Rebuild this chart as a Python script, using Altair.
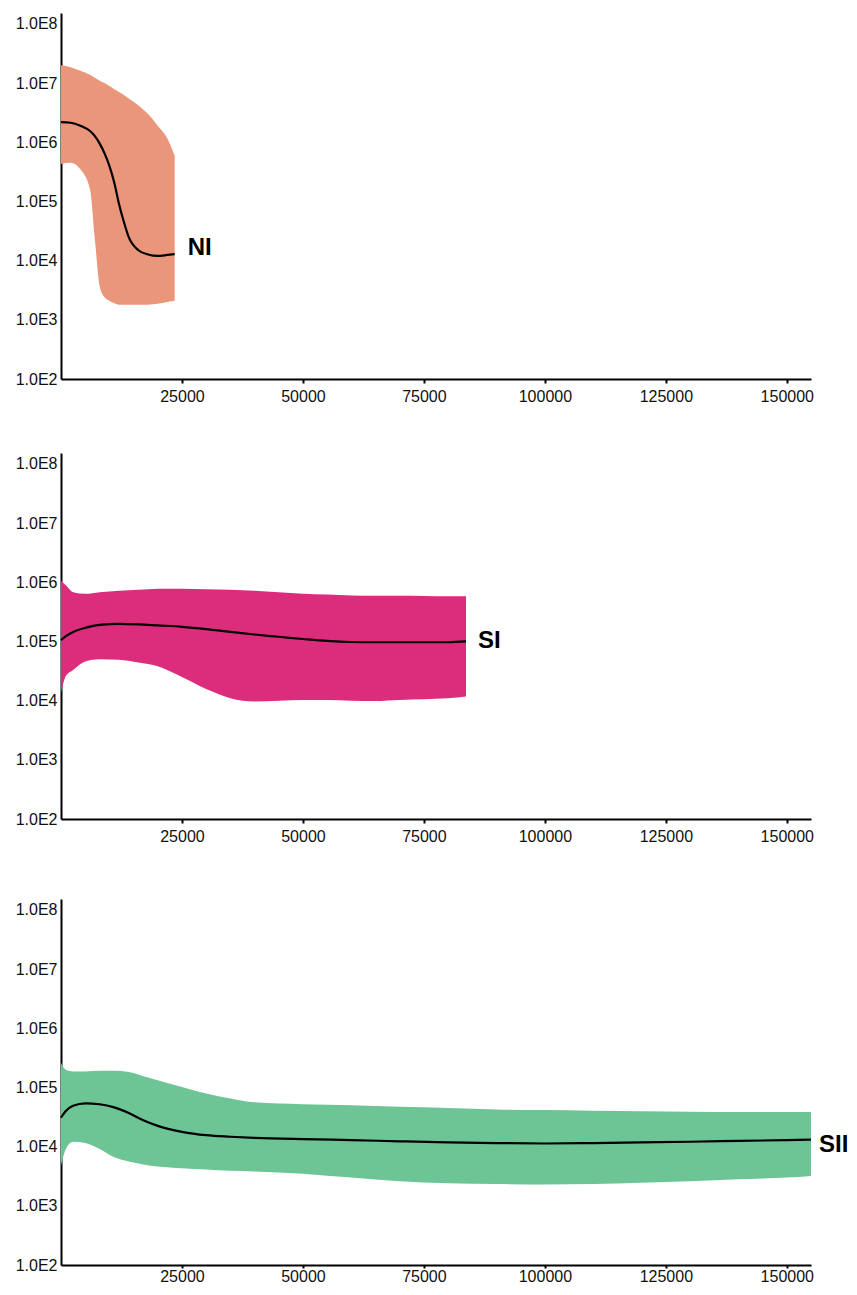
import altair as alt
import pandas as pd

# ---------------- data ----------------
ni_x = [0, 2000, 4000, 6000, 7000, 8000, 9000, 10000, 11000, 12000, 13000, 14000,
        16000, 18000, 20000, 22000, 23500]
ni_upper = [2.0e7, 1.86e7, 1.62e7, 1.38e7, 1.23e7, 1.10e7, 1.0e7, 8.9e6, 7.9e6, 7.1e6,
            6.3e6, 5.5e6, 4.2e6, 3.0e6, 1.9e6, 1.15e6, 5.9e5]
ni_median = [2.19e6, 2.14e6, 1.91e6, 1.55e6, 1.27e6, 9.5e5, 6.5e5, 4.0e5, 2.1e5, 9.0e4,
             4.5e4, 2.5e4, 1.5e4, 1.27e4, 1.2e4, 1.25e4, 1.29e4]
ni_lower = [4.3e5, 4.5e5, 3.5e5, 1.6e5, 2.3e4, 3.7e3, 2.4e3, 2.1e3, 1.9e3, 1.8e3,
            1.8e3, 1.8e3, 1.8e3, 1.8e3, 1.86e3, 2.0e3, 2.1e3]

si_x = [0, 1000, 2500, 5000, 8000, 12000, 16000, 20000, 25000, 30000, 35000, 40000,
        45000, 50000, 55000, 60000, 65000, 70000, 75000, 80000, 83700]
si_upper = [1.07e6, 8.9e5, 6.8e5, 6.4e5, 6.8e5, 7.2e5, 7.5e5, 7.8e5, 7.8e5, 7.6e5,
            7.5e5, 7.2e5, 6.8e5, 6.4e5, 6.2e5, 6.0e5, 5.9e5, 5.9e5, 5.85e5, 5.8e5, 5.8e5]
si_median = [1.05e5, 1.23e5, 1.45e5, 1.70e5, 1.91e5, 1.99e5, 1.95e5, 1.87e5, 1.77e5,
             1.62e5, 1.45e5, 1.31e5, 1.20e5, 1.10e5, 1.02e5, 9.8e4, 9.7e4, 9.7e4,
             9.7e4, 9.7e4, 1.0e5]
si_lower = [1.34e4, 2.6e4, 3.3e4, 4.6e4, 5.0e4, 4.9e4, 4.4e4, 3.8e4, 2.5e4, 1.57e4,
            1.1e4, 9.7e3, 1.0e4, 1.03e4, 1.03e4, 1.0e4, 9.9e3, 1.03e4, 1.06e4, 1.1e4, 1.18e4]

sii_x = [0, 1000, 2500, 5000, 8000, 11000, 14000, 17000, 20000, 25000, 30000, 35000,
         40000, 50000, 60000, 70000, 80000, 90000, 100000, 110000, 120000, 130000,
         140000, 150000, 155000]
sii_upper = [2.6e5, 2.0e5, 1.87e5, 1.87e5, 1.91e5, 1.91e5, 1.82e5, 1.55e5, 1.33e5,
             1.02e5, 7.9e4, 6.5e4, 5.6e4, 5.2e4, 5.0e4, 4.7e4, 4.5e4, 4.25e4, 4.15e4,
             4.05e4, 3.95e4, 3.9e4, 3.85e4, 3.85e4, 3.85e4]
sii_median = [3.1e4, 4.0e4, 4.9e4, 5.4e4, 5.2e4, 4.6e4, 3.7e4, 2.8e4, 2.24e4, 1.78e4,
              1.56e4, 1.47e4, 1.41e4, 1.34e4, 1.29e4, 1.23e4, 1.18e4, 1.15e4, 1.13e4,
              1.15e4, 1.18e4, 1.21e4, 1.25e4, 1.29e4, 1.31e4]
sii_lower = [4.8e3, 9.1e3, 1.21e4, 1.15e4, 9.1e3, 6.6e3, 5.6e3, 5.0e3, 4.6e3, 4.3e3,
             4.1e3, 3.9e3, 3.8e3, 3.5e3, 3.0e3, 2.6e3, 2.4e3, 2.33e3, 2.3e3, 2.33e3,
             2.45e3, 2.6e3, 2.8e3, 3.0e3, 3.2e3]

series_names = ["NI", "SI", "SII"]
series_colors = ["#E9967A", "#DC2D7D", "#6DC494"]
x_ticks = [25000, 50000, 75000, 100000, 125000, 150000]
y_ticks = [1e2, 1e3, 1e4, 1e5, 1e6, 1e7, 1e8]

FONT = "Liberation Sans"
W, H = 750, 366
X_DOMAIN = [0, 155000]
Y_DOMAIN = [100, 1.53e8]


def panel(name, color, xs, lo, med, up, dx, dy, tick_size, label_pad):
    df = pd.DataFrame({"x": xs, "lower": lo, "median": med, "upper": up})
    lab = pd.DataFrame({"x": [xs[-1]], "median": [med[-1]], "name": [name]})

    xenc = alt.X("x:Q", scale=alt.Scale(domain=X_DOMAIN, nice=False, zero=False),
                 axis=alt.Axis(values=x_ticks, format="d", title=None, grid=False,
                               domainColor="black", domainWidth=2, ticks=True,
                               tickSize=tick_size, tickWidth=2, tickColor="black",
                               labelPadding=label_pad, labelFont=FONT, labelFontSize=16,
                               labelColor="#111111", labelFlush=False))
    ysc = alt.Scale(type="log", domain=Y_DOMAIN, nice=False)
    yax = alt.Axis(values=y_ticks, title=None, grid=False, domainColor="black",
                   domainWidth=2, ticks=False, labelPadding=4, labelFont=FONT,
                   labelFontSize=16, labelColor="#111111",
                   labelExpr="'1.0E' + round(log(datum.value) / LN10)")

    band = alt.Chart(df).mark_area(color=color, opacity=1, interpolate="monotone").encode(
        x=xenc,
        y=alt.Y("lower:Q", scale=ysc, axis=yax),
        y2="upper:Q",
    )
    line = alt.Chart(df).mark_line(color="black", strokeWidth=2.2,
                                   interpolate="monotone").encode(
        x="x:Q", y="median:Q")
    text = alt.Chart(lab).mark_text(align="left", baseline="middle", dx=dx, dy=dy,
                                    font=FONT, fontSize=24, fontWeight="bold",
                                    color="black").encode(
        x="x:Q", y="median:Q", text="name:N")
    return alt.layer(band, line, text).properties(width=W, height=H)


p1 = panel(series_names[0], series_colors[0], ni_x, ni_lower, ni_median, ni_upper,
           13, -6, 4, 5)
p2 = panel(series_names[1], series_colors[1], si_x, si_lower, si_median, si_upper,
           12, 0, 4, 5)
p3 = panel(series_names[2], series_colors[2], sii_x, sii_lower, sii_median, sii_upper,
           8, 5, 3, 0)

top = alt.vconcat(p1, p2, spacing=49)
chart = alt.vconcat(top, p3, spacing=55).properties(
    padding={"left": 7, "top": 5, "right": 0, "bottom": 0},
    background="white",
).configure_view(strokeWidth=0, stroke=None)

chart.save("out.html", embed_options={"renderer": "svg", "actions": False})
